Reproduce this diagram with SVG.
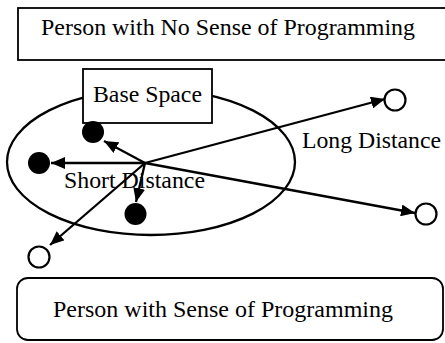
<svg xmlns="http://www.w3.org/2000/svg" width="445" height="343" viewBox="0 0 445 343">
  <style>
    .box { fill: #fff; stroke: #000; stroke-width: 1.8; }
    .lbl { font-family: "Liberation Serif", "Times New Roman", serif; font-size: 23px; fill: #000; }
    .edge { stroke: #000; stroke-width: 2.3; fill: none; marker-end: url(#head); }
    .solid { fill: #000; }
    .hollow { fill: #fff; stroke: #000; stroke-width: 2.2; }
  </style>
  <defs>
    <marker id="head" markerUnits="userSpaceOnUse" markerWidth="14" markerHeight="12" refX="14" refY="6" orient="auto">
      <path d="M0,0 L14,6 L0,12 z" fill="#000"/>
    </marker>
  </defs>
  <rect width="445" height="343" fill="#fff"/>

  <g id="no-sense">
    <rect class="box" x="18" y="8" width="440" height="52"/>
    <text class="lbl" x="41" y="35" textLength="374" lengthAdjust="spacingAndGlyphs">Person with No Sense of Programming</text>
  </g>

  <g id="region">
    <ellipse cx="151" cy="162" rx="144" ry="73" fill="none" stroke="#000" stroke-width="2.3"/>
  </g>

  <g id="base-space">
    <rect class="box" x="83" y="69" width="129" height="54"/>
    <text class="lbl" x="93" y="101.5" textLength="109" lengthAdjust="spacingAndGlyphs">Base Space</text>
  </g>

  <g id="near-1"><circle class="solid" cx="93" cy="132" r="11"/></g>
  <g id="near-2"><circle class="solid" cx="39" cy="163" r="11"/></g>
  <g id="near-3"><circle class="solid" cx="135.5" cy="214" r="11"/></g>
  <g id="far-1"><circle class="hollow" cx="395" cy="100" r="10.5"/></g>
  <g id="far-2"><circle class="hollow" cx="426" cy="214" r="10.5"/></g>
  <g id="far-3"><circle class="hollow" cx="39" cy="257" r="10.5"/></g>

  <g id="connectors">
    <line class="edge" x1="145" y1="163" x2="104" y2="141"/>
    <line class="edge" x1="145" y1="163" x2="51" y2="163"/>
    <line class="edge" x1="145" y1="163" x2="136" y2="202"/>
    <line class="edge" x1="145" y1="163" x2="50" y2="245"/>
    <line class="edge" x1="145" y1="163" x2="385" y2="99"/>
    <line class="edge" x1="145" y1="163" x2="415" y2="213"/>
  </g>

  <g id="labels">
    <text class="lbl" x="302" y="148" textLength="139" lengthAdjust="spacingAndGlyphs">Long Distance</text>
    <text class="lbl" x="64" y="188" textLength="141" lengthAdjust="spacingAndGlyphs">Short Distance</text>
  </g>

  <g id="with-sense">
    <rect class="box" x="17" y="278" width="426" height="62" rx="11"/>
    <text class="lbl" x="53" y="317" textLength="340" lengthAdjust="spacingAndGlyphs">Person with Sense of Programming</text>
  </g>
</svg>
